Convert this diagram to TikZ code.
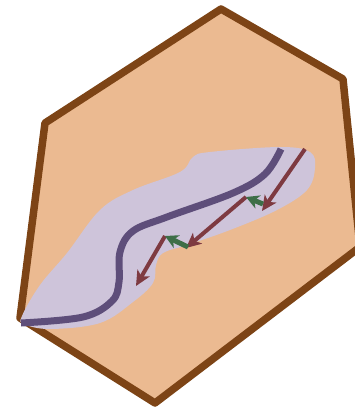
\documentclass[tikz,border=0pt]{standalone}
\usetikzlibrary{arrows.meta}
\definecolor{hexfill}{HTML}{EBBA91}
\definecolor{hexline}{HTML}{7D4416}
\definecolor{blob}{HTML}{CEC4DA}
\definecolor{curve}{HTML}{5E4E7A}
\definecolor{redarr}{HTML}{7E3A41}
\definecolor{greenarr}{HTML}{3D6E47}
\tikzset{
  redarrow/.style={draw=redarr, line width=4pt, -{Stealth[length=15pt,width=14pt,inset=4pt]}},
  greenarrow/.style={draw=greenarr, line width=5pt, -{Stealth[length=13pt,width=14pt,inset=4pt]}},
}
\begin{document}
\begin{tikzpicture}[x=1pt,y=-1pt]
\useasboundingbox (0,0) rectangle (355,410);
\clip (0,0) rectangle (355,410);
% hexagon
\draw[fill=hexfill, draw=hexline, line width=7.5pt, line join=round]
  (221,9) -- (343,79) -- (360,247) -- (155,403) -- (20,318) -- (45,123) -- cycle;
% blob
\fill[blob] plot[smooth cycle, tension=0.6] coordinates {
  (22,316) (40,285) (67,253) (100,210) (133,190) (180,172) (193,157) (210,152)
  (280,147) (310,152) (315,168) (307,190) (277,210) (230,230) (187,245)
  (163,253) (156,265) (153,283) (133,302) (100,323) (50,329) (24,324)};
% purple curve
\draw[curve, line width=7pt] plot[smooth, tension=0.6] coordinates {
  (21,323) (83,317) (112,301) (119,282) (120,252) (133,231) (167,217)
  (233,193) (265,174) (281,149)};
% red arrows
\coordinate (r1s) at (305,149); \coordinate (r1e) at (262,211);
\coordinate (r2s) at (246,197); \coordinate (r2e) at (186,248);
\coordinate (r3s) at (165,236); \coordinate (r3e) at (136,286);
\draw[redarrow] (r1s) -- (r1e);
\draw[redarrow] (r2s) -- (r2e);
\draw[redarrow] (r3s) -- (r3e);
% green arrows
\draw[greenarrow] (263,204) -- (r2s);
\draw[greenarrow] (188,247) -- (r3s);
\end{tikzpicture}
\end{document}
